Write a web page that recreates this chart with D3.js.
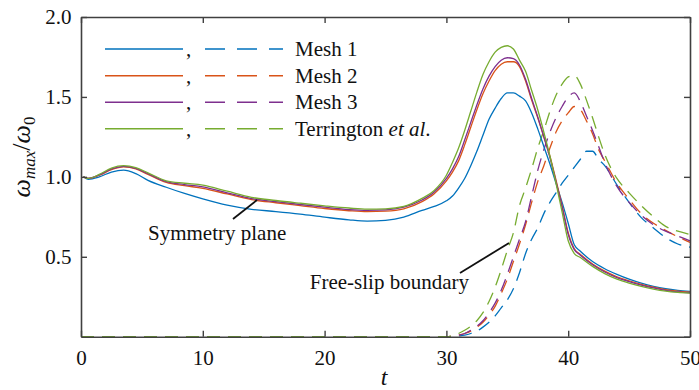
<!DOCTYPE html>
<html>
<head>
<meta charset="utf-8">
<script src="https://cdn.jsdelivr.net/npm/d3@7"></script>
<style>
  body { margin: 0; background: #fff; }
  svg { display: block; }
  svg text { font-family: "Liberation Serif", "Times New Roman", serif !important; }
</style>
</head>
<body>
<svg id="chart" width="699" height="390"></svg>
<script>
// symmetry-plane series (solid), shared time grid
const solidT = [0.2, 0.6, 1.5, 2.5, 3.5, 4.5, 5.5, 7, 8.5, 10, 12, 14, 16, 18, 20, 22, 23.5, 25, 26.5, 28, 29, 30, 30.5, 31, 31.5, 32, 32.5, 33, 33.5, 34, 34.5, 35, 35.5, 36, 36.5, 37, 37.5, 38, 38.5, 39, 39.5, 40, 40.5, 41, 42, 43, 44, 45, 46, 47, 48, 49, 50];
const solidMesh1 = [1.0, 0.985, 1.0, 1.03, 1.042, 1.02, 0.978, 0.935, 0.896, 0.862, 0.823, 0.797, 0.783, 0.767, 0.748, 0.731, 0.723, 0.728, 0.748, 0.79, 0.815, 0.85, 0.88, 0.93, 0.99, 1.07, 1.16, 1.26, 1.36, 1.43, 1.49, 1.525, 1.525, 1.505, 1.475, 1.40, 1.30, 1.19, 1.08, 0.96, 0.84, 0.71, 0.575, 0.535, 0.47, 0.425, 0.39, 0.36, 0.335, 0.315, 0.30, 0.29, 0.283];
const solidMesh2 = [1.0, 0.99, 1.01, 1.045, 1.062, 1.05, 1.015, 0.965, 0.945, 0.928, 0.893, 0.858, 0.838, 0.82, 0.802, 0.788, 0.782, 0.785, 0.80, 0.845, 0.895, 0.975, 1.03, 1.10, 1.20, 1.31, 1.42, 1.52, 1.60, 1.665, 1.705, 1.72, 1.72, 1.69, 1.60, 1.48, 1.37, 1.25, 1.13, 0.98, 0.82, 0.65, 0.55, 0.515, 0.455, 0.41, 0.375, 0.35, 0.328, 0.31, 0.295, 0.285, 0.278];
const solidMesh3 = [1.0, 0.99, 1.012, 1.05, 1.066, 1.053, 1.02, 0.97, 0.952, 0.937, 0.90, 0.864, 0.845, 0.827, 0.81, 0.795, 0.79, 0.793, 0.81, 0.855, 0.905, 0.99, 1.05, 1.125, 1.23, 1.34, 1.45, 1.55, 1.63, 1.69, 1.73, 1.745, 1.74, 1.70, 1.61, 1.49, 1.375, 1.25, 1.12, 0.97, 0.81, 0.64, 0.545, 0.51, 0.45, 0.405, 0.37, 0.345, 0.323, 0.305, 0.29, 0.28, 0.275];
const solidTerr = [1.0, 0.99, 1.015, 1.055, 1.07, 1.058, 1.025, 0.975, 0.96, 0.948, 0.91, 0.872, 0.852, 0.835, 0.819, 0.805, 0.798, 0.80, 0.815, 0.865, 0.915, 1.01, 1.09, 1.18, 1.29, 1.41, 1.53, 1.64, 1.72, 1.78, 1.81, 1.82, 1.80, 1.73, 1.66, 1.54, 1.42, 1.28, 1.13, 0.96, 0.78, 0.60, 0.52, 0.495, 0.44, 0.395, 0.36, 0.335, 0.315, 0.298, 0.285, 0.277, 0.272];

// free-slip boundary series (dashed)
const dashT = [0, 30, 31, 31.5, 32, 32.5, 33, 33.5, 34, 34.5, 35, 35.5, 36, 36.5, 37, 37.5, 38, 38.5, 39, 39.5, 40, 40.5, 41, 41.5, 42, 42.5, 43, 44, 45, 46, 47, 48, 49, 50];
const dashMesh1 = [0, 0, 0.005, 0.01, 0.02, 0.035, 0.06, 0.09, 0.13, 0.18, 0.23, 0.30, 0.40, 0.52, 0.61, 0.68, 0.77, 0.84, 0.90, 0.96, 1.01, 1.06, 1.11, 1.16, 1.16, 1.11, 1.07, 0.95, 0.84, 0.745, 0.68, 0.62, 0.58, 0.56];
const dashMesh2 = [0, 0, 0.01, 0.02, 0.035, 0.06, 0.09, 0.135, 0.19, 0.27, 0.36, 0.47, 0.58, 0.70, 0.84, 0.97, 1.07, 1.18, 1.28, 1.35, 1.40, 1.44, 1.42, 1.35, 1.27, 1.17, 1.10, 0.96, 0.86, 0.77, 0.71, 0.665, 0.625, 0.59];
const dashMesh3 = [0, 0, 0.01, 0.02, 0.04, 0.065, 0.10, 0.15, 0.21, 0.29, 0.39, 0.50, 0.61, 0.72, 0.88, 1.04, 1.17, 1.28, 1.37, 1.44, 1.50, 1.525, 1.47, 1.38, 1.29, 1.19, 1.09, 0.94, 0.84, 0.76, 0.70, 0.66, 0.63, 0.60];
const dashTerr = [0, 0, 0.02, 0.04, 0.065, 0.10, 0.15, 0.22, 0.31, 0.42, 0.54, 0.65, 0.82, 0.93, 1.05, 1.18, 1.29, 1.41, 1.51, 1.58, 1.625, 1.635, 1.58, 1.48, 1.37, 1.25, 1.14, 0.99, 0.90, 0.82, 0.75, 0.69, 0.66, 0.64];

const seriesNames = ["Mesh 1", "Mesh 2", "Mesh 3", "Terrington"];
const seriesColors = ["#0072BD", "#D95319", "#7E2F8E", "#77AC30"];
const solidSeries = [solidMesh1, solidMesh2, solidMesh3, solidTerr];
const dashSeries = [dashMesh1, dashMesh2, dashMesh3, dashTerr];

const xTicks = [0, 10, 20, 30, 40, 50];
const yTicks = [0.5, 1.0, 1.5, 2.0];

const width = 699, height = 390;
const margin = { top: 17, right: 9, bottom: 53.3, left: 81 };
const axisColor = "#404040";
const serif = '"Liberation Serif", "Times New Roman", serif';

const svg = d3.select("#chart");

const x = d3.scaleLinear().domain([0, 50]).range([margin.left, width - margin.right]);
const y = d3.scaleLinear().domain([0, 2]).range([height - margin.bottom, margin.top]);

const line = d3.line()
  .x((d) => x(d[0]))
  .y((d) => y(d[1]))
  .curve(d3.curveMonotoneX);

// curves
const plot = svg.append("g");
dashSeries.forEach((vals, i) => {
  plot.append("path")
    .datum(dashT.map((t, j) => [t, vals[j]]))
    .attr("fill", "none")
    .attr("stroke", seriesColors[i])
    .attr("stroke-width", 1.3)
    .attr("stroke-dasharray", "13,8")
    .attr("d", line);
});
solidSeries.forEach((vals, i) => {
  plot.append("path")
    .datum(solidT.map((t, j) => [t, vals[j]]))
    .attr("fill", "none")
    .attr("stroke", seriesColors[i])
    .attr("stroke-width", 1.3)
    .attr("d", line);
});

// axes, ticks inward on all four sides
const styleAxis = (g) => {
  g.attr("font-family", null);
  g.select(".domain").attr("stroke", axisColor).attr("stroke-width", 1.6);
  g.selectAll(".tick line").attr("stroke", axisColor).attr("stroke-width", 1.4);
  g.selectAll(".tick text")
    .attr("fill", "#111")
    .attr("font-size", 21)
    .style("font-family", serif);
};

svg.append("g")
  .attr("transform", `translate(0,${y(0)})`)
  .call(d3.axisBottom(x).tickValues(xTicks).tickSize(-6).tickSizeOuter(0).tickPadding(13.5).tickFormat(d3.format("d")))
  .call(styleAxis);

svg.append("g")
  .attr("transform", `translate(0,${y(2)})`)
  .call(d3.axisTop(x).tickValues(xTicks).tickSize(-6).tickSizeOuter(0).tickFormat(""))
  .call(styleAxis);

svg.append("g")
  .attr("transform", `translate(${x(0)},0)`)
  .call(d3.axisLeft(y).tickValues(yTicks).tickSize(-6).tickSizeOuter(0).tickPadding(9.5).tickFormat(d3.format(".1f")))
  .call(styleAxis);

svg.append("g")
  .attr("transform", `translate(${x(50)},0)`)
  .call(d3.axisRight(y).tickValues([0, ...yTicks]).tickSize(-6).tickSizeOuter(0).tickFormat(""))
  .call(styleAxis);

// axis labels
svg.append("text")
  .attr("x", 384)
  .attr("y", 385)
  .attr("text-anchor", "middle")
  .attr("font-size", 24)
  .attr("font-style", "italic")
  .attr("fill", "#111")
  .text("t");

const yLabel = svg.append("text")
  .attr("transform", "translate(30,157) rotate(-90)")
  .attr("text-anchor", "middle")
  .attr("font-size", 26)
  .attr("fill", "#111");
yLabel.append("tspan").attr("font-style", "italic").text("ω");
yLabel.append("tspan").attr("font-style", "italic").attr("font-size", 17).attr("dy", 5).text("max");
yLabel.append("tspan").attr("dy", -5).text("/");
yLabel.append("tspan").attr("font-style", "italic").text("ω");
yLabel.append("tspan").attr("font-size", 17).attr("dy", 5).text("0");

// legend
const legendY = [49, 75.7, 102.3, 128.7];
const legend = svg.append("g");
seriesNames.forEach((name, i) => {
  const ly = legendY[i];
  legend.append("line")
    .attr("x1", 105).attr("x2", 183).attr("y1", ly).attr("y2", ly)
    .attr("stroke", seriesColors[i]).attr("stroke-width", 1.5);
  legend.append("text")
    .attr("x", 186).attr("y", ly + 7)
    .attr("font-size", 21).attr("fill", "#111").text(",");
  legend.append("line")
    .attr("x1", 205).attr("x2", 283).attr("y1", ly).attr("y2", ly)
    .attr("stroke", seriesColors[i]).attr("stroke-width", 1.5)
    .attr("stroke-dasharray", "20,12");
  const t = legend.append("text")
    .attr("x", 295).attr("y", ly + 7)
    .attr("font-size", 21).attr("fill", "#111");
  if (name === "Terrington") {
    t.append("tspan").text("Terrington ");
    t.append("tspan").attr("font-style", "italic").text("et al");
    t.append("tspan").text(".");
  } else {
    t.text(name);
  }
});

// annotations
svg.append("text")
  .attr("x", 148).attr("y", 240)
  .attr("font-size", 21).attr("fill", "#111")
  .text("Symmetry plane");
svg.append("line")
  .attr("x1", 233).attr("y1", 219).attr("x2", 257).attr("y2", 200)
  .attr("stroke", "#111").attr("stroke-width", 1.8);

svg.append("text")
  .attr("x", 469).attr("y", 289)
  .attr("text-anchor", "end")
  .attr("font-size", 21).attr("fill", "#111")
  .text("Free-slip boundary");
svg.append("line")
  .attr("x1", 460).attr("y1", 273).attr("x2", 509).attr("y2", 243)
  .attr("stroke", "#111").attr("stroke-width", 1.8);
</script>
</body>
</html>
